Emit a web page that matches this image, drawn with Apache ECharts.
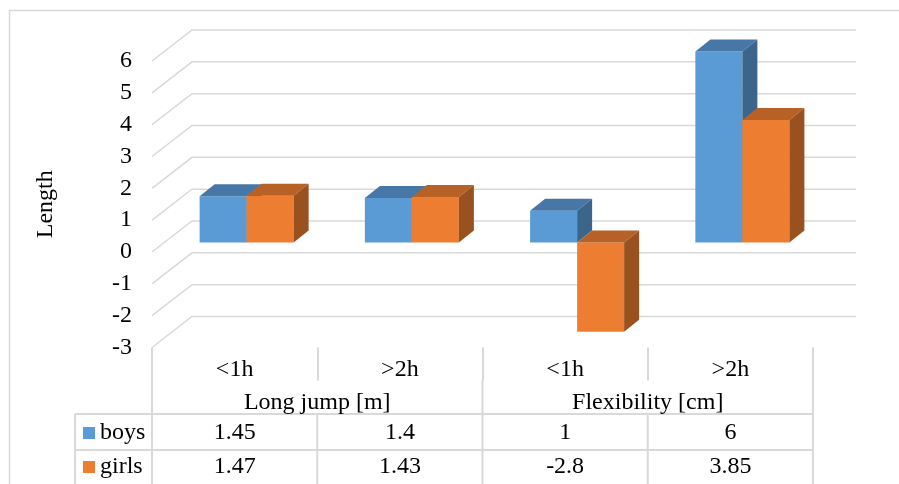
<!DOCTYPE html>
<html><head><meta charset="utf-8">
<script src="https://cdn.jsdelivr.net/npm/echarts@6/dist/echarts.min.js"></script>
<style>html,body{margin:0;padding:0;background:#fff}#c{width:899px;height:484px}</style>
</head><body><div id="c"></div>
<script>
// ---- data ----
const categories = ['<1h', '>2h', '<1h', '>2h'];
const groups = ['Long jump [m]', 'Flexibility [cm]'];
const seriesNames = ['boys', 'girls'];
const boys = [1.45, 1.4, 1, 6];
const girls = [1.47, 1.43, -2.8, 3.85];
const yTicks = [-3, -2, -1, 0, 1, 2, 3, 4, 5, 6];
const yAxisTitle = 'Length';

// ---- style ----
const FONT = "'Liberation Serif','Times New Roman',serif";
const FS = 24;
const GRID_C = '#D9D9D9';
const DEPTH = [40, -31];
const FRONT = [12, -9.5];
const BACK = [27, -21.5];
const BAR_FRAC = 0.2845;
const COLORS = [
  ['#5B9BD5', '#4677A6', '#3B658B'],
  ['#ED7D31', '#B86127', '#9A5120']
];

const chart = echarts.init(document.getElementById('c'), null, {renderer: 'canvas'});

function barRender(side) {
  const col = COLORS[side];
  return function (params, api) {
    const i = api.value(0), v = api.value(1);
    const c = api.coord([i, 0]);
    const band = api.size([1, 0])[0];
    const bw = band * BAR_FRAC;
    const x0 = side === 0 ? c[0] - bw : c[0];
    const x1 = x0 + bw;
    const yv = api.coord([i, v])[1];
    const y0 = c[1];
    const top = Math.min(yv, y0), bot = Math.max(yv, y0);
    const fx = FRONT[0], fy = FRONT[1], bx = BACK[0], by = BACK[1];
    return {
      type: 'group', children: [
        {type: 'rect', shape: {x: x0 + fx, y: top + fy, width: bw, height: bot - top}, style: {fill: col[0]}},
        {type: 'polygon', shape: {points: [[x0 + fx, top + fy], [x1 + fx, top + fy], [x1 + bx, top + by], [x0 + bx, top + by]]}, style: {fill: col[1]}},
        {type: 'polygon', shape: {points: [[x1 + fx, top + fy], [x1 + bx, top + by], [x1 + bx, bot + by], [x1 + fx, bot + fy]]}, style: {fill: col[2]}}
      ]
    };
  };
}

const option = {
  animation: false,
  backgroundColor: '#fff',
  grid: {left: 152, right: 86, top: 61, bottom: 136.5},
  xAxis: {
    type: 'category', data: categories,
    axisLine: {show: false, onZero: false},
    axisTick: {show: true, length: 33, lineStyle: {color: GRID_C, width: 2}},
    axisLabel: {margin: 10, fontFamily: FONT, fontSize: FS, color: '#000'},
    splitLine: {show: false}
  },
  yAxis: {
    type: 'value', min: -3, max: 6, interval: 1,
    axisLine: {show: false}, axisTick: {show: false},
    splitLine: {show: false},
    axisLabel: {margin: 20, fontFamily: FONT, fontSize: FS, color: '#000'},
    name: yAxisTitle, nameLocation: 'middle', nameRotate: 90, nameGap: 94,
    nameTextStyle: {fontFamily: FONT, fontSize: FS, color: '#000'}
  },
  series: [
    {
      type: 'custom', name: 'grid', clip: false, silent: true, z: 1,
      data: yTicks.map(v => [0, v]),
      renderItem: function (params, api) {
        const cs = params.coordSys;
        const y = api.coord([0, api.value(1)])[1];
        return {
          type: 'polyline',
          shape: {points: [[cs.x, y], [cs.x + DEPTH[0], y + DEPTH[1]], [cs.x + cs.width + DEPTH[0] + 3, y + DEPTH[1]]]},
          style: {stroke: GRID_C, lineWidth: 1.5, fill: null}
        };
      }
    },
    {
      type: 'custom', name: seriesNames[0], clip: false, z: 2,
      data: boys.map((v, i) => [i, v]),
      encode: {x: 0, y: 1},
      renderItem: barRender(0)
    },
    {
      type: 'custom', name: seriesNames[1], clip: false, z: 3,
      data: girls.map((v, i) => [i, v]),
      encode: {x: 0, y: 1},
      renderItem: barRender(1)
    }
  ]
};
chart.setOption(option);

// ---- data table drawn from axis positions ----
const p0 = chart.convertToPixel({gridIndex: 0}, [0, -3]);
const p1 = chart.convertToPixel({gridIndex: 0}, [1, -3]);
const band = p1[0] - p0[0];
const edge = k => p0[0] - band / 2 + k * band;
const yCatBot = 380, yGrpBot = 414, yRow1 = 450, yRow2 = 486;
const tableLeft = 75;
const g = [];
const line = (x1, y1, x2, y2) => g.push({type: 'line', shape: {x1, y1, x2, y2}, style: {stroke: GRID_C, lineWidth: 2}, z: 5});
// outer border
g.push({type: 'rect', shape: {x: 9.5, y: 10.5, width: 1000, height: 1000}, style: {fill: null, stroke: GRID_C, lineWidth: 1.5}, z: 0});
// group boundaries in group row
for (let k = 0; k <= categories.length; k += 2) line(edge(k), yCatBot, edge(k), yGrpBot);
// all boundaries in value rows
for (let k = 0; k <= categories.length; k++) line(edge(k), yGrpBot, edge(k), yRow2);
line(tableLeft, yGrpBot, tableLeft, yRow2);
line(tableLeft, yGrpBot, edge(categories.length), yGrpBot);
line(tableLeft, yRow1, edge(categories.length), yRow1);
line(tableLeft, yRow2, edge(categories.length), yRow2);
const txt = (s, x, y, align) => g.push({type: 'text', x, y, z: 6, style: {text: s, fontFamily: FONT, fontSize: FS, fill: '#000', align: align || 'center', verticalAlign: 'middle'}});
groups.forEach((name, j) => txt(name, (edge(2 * j) + edge(2 * j + 2)) / 2, 403));
const rows = [boys, girls];
const rowY = [433, 467];
rows.forEach((arr, r) => {
  g.push({type: 'rect', shape: {x: 83, y: rowY[r] - 6, width: 12, height: 12}, style: {fill: COLORS[r][0]}, z: 6});
  txt(seriesNames[r], 100, rowY[r], 'left');
  arr.forEach((v, i) => txt(String(v), (edge(i) + edge(i + 1)) / 2, rowY[r]));
});
chart.setOption({graphic: {elements: g}});
</script>
</body></html>
